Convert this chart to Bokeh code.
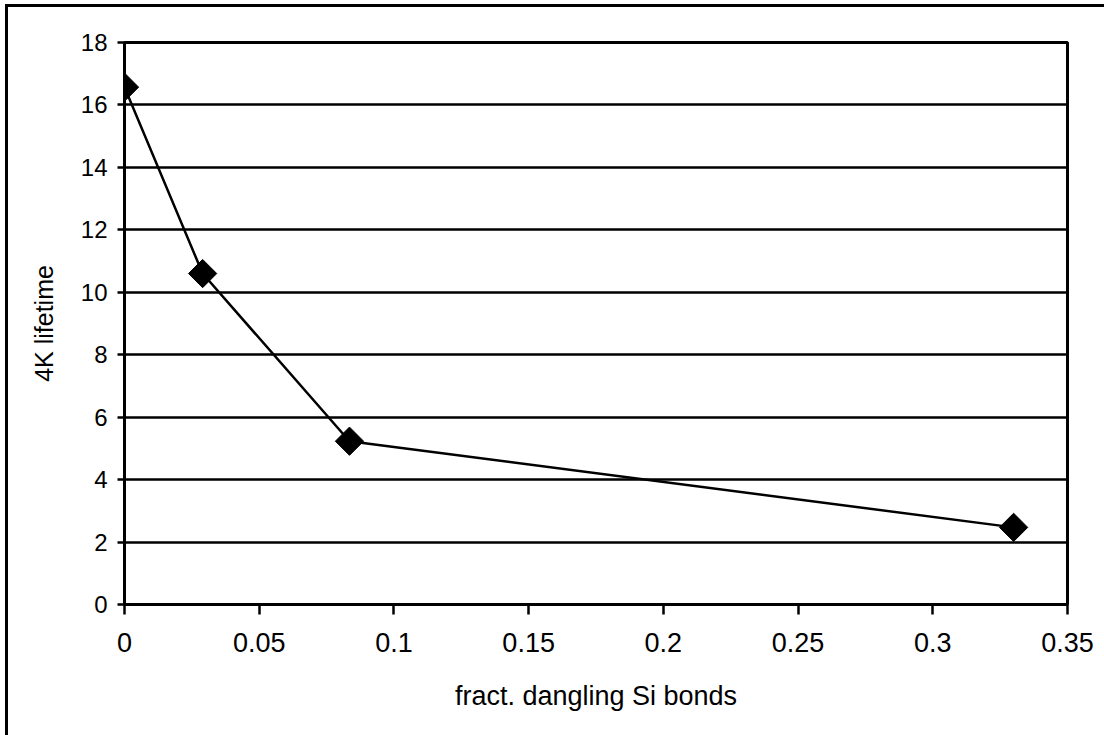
from bokeh.plotting import figure
from bokeh.models import Range1d, FixedTicker, InlineStyleSheet
from bokeh.embed import file_html
from bokeh.resources import INLINE
import numpy as np

# Measured lifetime versus fraction of dangling Si bonds
dangling_frac = [0.0, 0.029, 0.0835, 0.33]
lifetime_4k = [16.57, 10.6, 5.23, 2.47]

x_ticks = [0, 0.05, 0.1, 0.15, 0.2, 0.25, 0.3, 0.35]
y_ticks = [0, 2, 4, 6, 8, 10, 12, 14, 16, 18]

FONT = "Liberation Sans"

p = figure(
    width=1104, height=735,
    output_backend="svg", toolbar_location=None,
    x_range=Range1d(0, 0.35), y_range=Range1d(0, 18),
    min_border_left=124, min_border_right=37,
    min_border_top=42, min_border_bottom=131,
    x_axis_label="fract. dangling Si bonds",
    y_axis_label="4K lifetime",
)
p.background_fill_color = "white"
p.border_fill_color = "white"
p.outline_line_color = "black"
p.outline_line_width = 3

p.xgrid.grid_line_color = None
p.ygrid.grid_line_color = "black"
p.ygrid.grid_line_width = 2.5
p.ygrid.ticker = FixedTicker(ticks=y_ticks)

for ax in (p.xaxis[0], p.yaxis[0]):
    ax.axis_line_color = "black"
    ax.axis_line_width = 3
    ax.major_tick_line_color = "black"
    ax.major_tick_line_width = 2.5
    ax.major_tick_in = 0
    ax.minor_tick_line_color = None
    ax.major_label_text_font = FONT
    ax.major_label_text_color = "black"
    ax.axis_label_text_font = FONT
    ax.axis_label_text_font_style = "normal"
    ax.axis_label_text_color = "black"

p.xaxis[0].ticker = FixedTicker(ticks=x_ticks)
p.xaxis[0].major_label_overrides = {t: f"{t:g}" for t in x_ticks}
p.xaxis[0].major_tick_out = 10
p.xaxis[0].major_label_standoff = 18
p.xaxis[0].major_label_text_font_size = "27px"
p.xaxis[0].axis_label_standoff = 26
p.xaxis[0].axis_label_text_font_size = "27px"

p.yaxis[0].ticker = FixedTicker(ticks=y_ticks)
p.yaxis[0].major_tick_out = 7
p.yaxis[0].major_label_standoff = 10
p.yaxis[0].major_label_text_font_size = "24px"
p.yaxis[0].axis_label_standoff = 20
p.yaxis[0].axis_label_text_font_size = "25px"

# Outer chart border (top and left edges lie inside the page)
p.stylesheets = [InlineStyleSheet(css="""
:host::after {
  content: "";
  position: absolute;
  left: 5px; top: 4px; right: 0; bottom: 0;
  border-top: 3px solid black;
  border-left: 3px solid black;
  pointer-events: none;
}
""")]

p.line(dangling_frac, lifetime_4k, line_color="black", line_width=2.5)
p.scatter(dangling_frac, lifetime_4k, marker="square", size=20,
          angle=np.pi / 4, fill_color="black", line_color="black")

open("out.html", "w").write(file_html(p, INLINE))
